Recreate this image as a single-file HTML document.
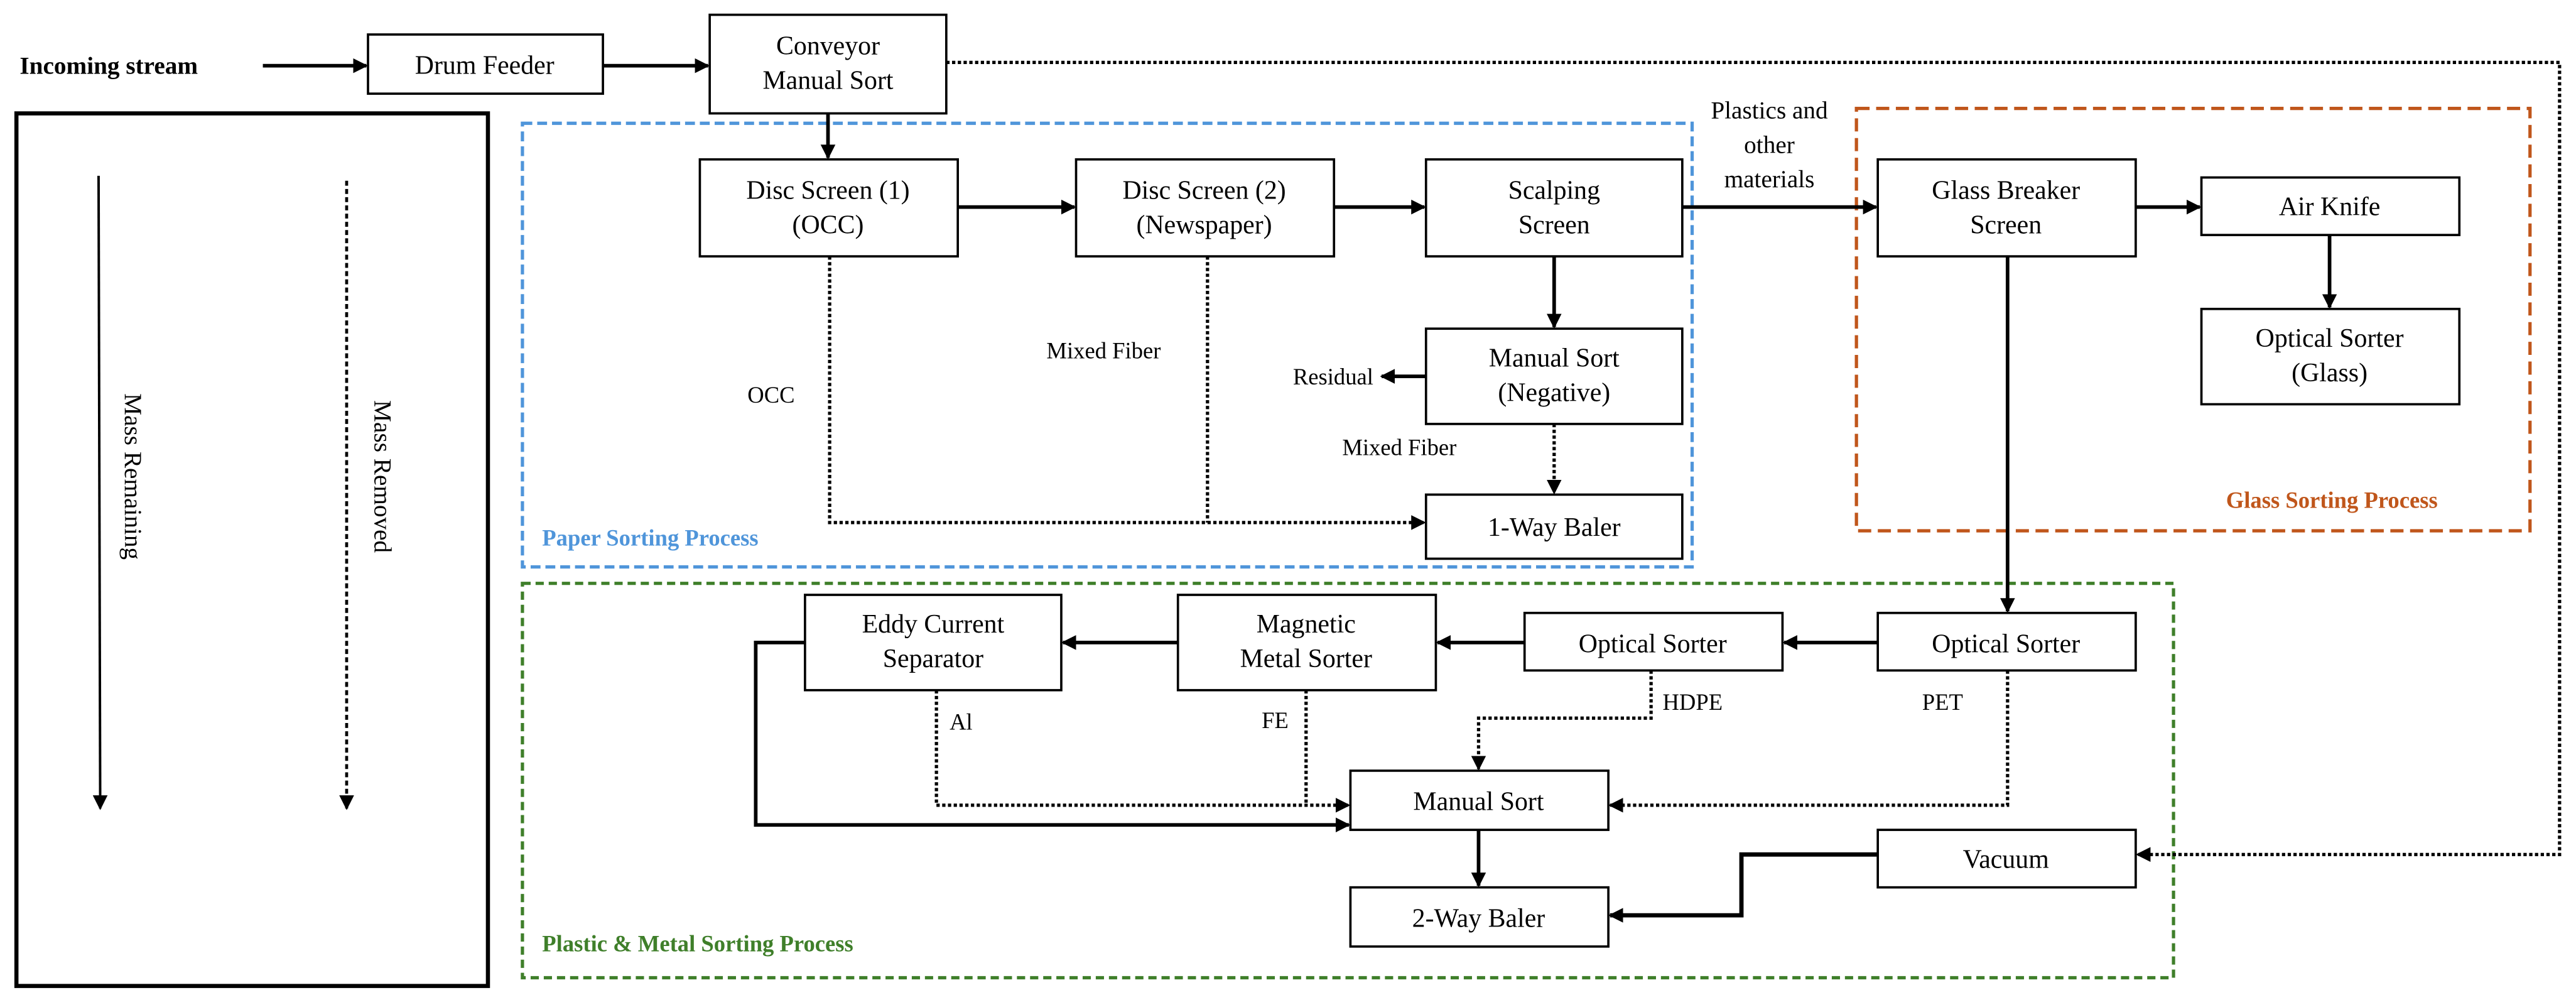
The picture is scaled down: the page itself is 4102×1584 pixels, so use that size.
<!DOCTYPE html>
<html><head><meta charset="utf-8"><style>
html,body{margin:0;padding:0;background:#fff;}
svg{display:block;}
text{font-family:"Liberation Serif",serif;fill:#000;}
</style></head><body>
<svg width="4102" height="1584" viewBox="0 0 1568 605.5" preserveAspectRatio="none" xmlns="http://www.w3.org/2000/svg">
<defs>
<marker id="a" markerWidth="9" markerHeight="9" refX="8" refY="4.5" orient="auto" markerUnits="userSpaceOnUse"><path d="M0,0 L9,4.5 L0,9 z" fill="#000"/></marker>
</defs>
<rect width="1568" height="605.5" fill="#fff"/>

<!-- group boxes -->
<rect x="318" y="75" width="712" height="270" fill="none" stroke="#4f95da" stroke-width="2" stroke-dasharray="6,3"/>
<text x="330" y="332" font-size="14" font-weight="bold" style="fill:#4f95da">Paper Sorting Process</text>
<rect x="1130" y="66" width="410" height="257" fill="none" stroke="#c0561b" stroke-width="2" stroke-dasharray="8,4"/>
<text x="1355" y="309" font-size="14" font-weight="bold" style="fill:#c0561b">Glass Sorting Process</text>
<rect x="318" y="355" width="1005" height="240" fill="none" stroke="#3f7f2a" stroke-width="2" stroke-dasharray="5,3"/>
<text x="330" y="579" font-size="14" font-weight="bold" style="fill:#3f7f2a">Plastic &amp; Metal Sorting Process</text>

<!-- legend -->
<rect x="10" y="69" width="287" height="531" fill="none" stroke="#000" stroke-width="2.5"/>
<line x1="60" y1="107" x2="61" y2="492" stroke="#000" stroke-width="1.5" marker-end="url(#a)"/>
<line x1="211" y1="110" x2="211" y2="492" stroke="#000" stroke-width="1.8" stroke-dasharray="3,2" marker-end="url(#a)"/>
<text transform="translate(76,290) rotate(90)" font-size="15" text-anchor="middle">Mass Remaining</text>
<text transform="translate(228,290) rotate(90)" font-size="15" text-anchor="middle">Mass Removed</text>

<g fill="#fff" stroke="#000" stroke-width="1.4">
<rect x="224" y="21" width="143" height="36"/>
<rect x="432" y="9" width="144" height="60"/>
<rect x="426" y="97" width="157" height="59"/>
<rect x="655" y="97" width="157" height="59"/>
<rect x="868" y="97" width="156" height="59"/>
<rect x="868" y="200" width="156" height="58"/>
<rect x="868" y="301" width="156" height="39"/>
<rect x="1143" y="97" width="157" height="59"/>
<rect x="1340" y="108" width="157" height="35"/>
<rect x="1340" y="188" width="157" height="58"/>
<rect x="1143" y="373" width="157" height="35"/>
<rect x="928" y="373" width="157" height="35"/>
<rect x="717" y="362" width="157" height="58"/>
<rect x="490" y="362" width="156" height="58"/>
<rect x="822" y="469" width="157" height="36"/>
<rect x="822" y="540" width="157" height="36"/>
<rect x="1143" y="505" width="157" height="35"/>
</g>

<g font-size="16" text-anchor="middle">
<text x="12" y="45" font-weight="bold" font-size="15" text-anchor="start">Incoming stream</text>
<text x="295" y="45">Drum Feeder</text>
<text x="504" y="33">Conveyor</text><text x="504" y="54">Manual Sort</text>
<text x="504" y="121">Disc Screen (1)</text><text x="504" y="142">(OCC)</text>
<text x="733" y="121">Disc Screen (2)</text><text x="733" y="142">(Newspaper)</text>
<text x="946" y="121">Scalping</text><text x="946" y="142">Screen</text>
<text x="946" y="223">Manual Sort</text><text x="946" y="244">(Negative)</text>
<text x="946" y="326">1-Way Baler</text>
<text x="1221" y="121">Glass Breaker</text><text x="1221" y="142">Screen</text>
<text x="1418" y="131">Air Knife</text>
<text x="1418" y="211">Optical Sorter</text><text x="1418" y="232">(Glass)</text>
<text x="1221" y="397">Optical Sorter</text>
<text x="1006" y="397">Optical Sorter</text>
<text x="795" y="385">Magnetic</text><text x="795" y="406">Metal Sorter</text>
<text x="568" y="385">Eddy Current</text><text x="568" y="406">Separator</text>
<text x="900" y="493">Manual Sort</text>
<text x="900" y="564">2-Way Baler</text>
<text x="1221" y="528">Vacuum</text>
</g>
<g font-size="14">
<text x="1077" y="72" text-anchor="middle" font-size="15">Plastics and</text>
<text x="1077" y="93" text-anchor="middle" font-size="15">other</text>
<text x="1077" y="114" text-anchor="middle" font-size="15">materials</text>
<text x="455" y="245">OCC</text>
<text x="637" y="218">Mixed Fiber</text>
<text x="787" y="234">Residual</text>
<text x="817" y="277">Mixed Fiber</text>
<text x="578" y="444">Al</text>
<text x="768" y="443">FE</text>
<text x="1012" y="432">HDPE</text>
<text x="1170" y="432">PET</text>
</g>

<!-- solid arrows -->
<g stroke="#000" stroke-width="2.2" fill="none" marker-end="url(#a)">
<line x1="160" y1="40" x2="223" y2="40"/>
<line x1="367" y1="40" x2="431" y2="40"/>
<line x1="504" y1="69" x2="504" y2="96"/>
<line x1="583" y1="126" x2="654" y2="126"/>
<line x1="812" y1="126" x2="867" y2="126"/>
<line x1="946" y1="156" x2="946" y2="199"/>
<line x1="868" y1="229" x2="841" y2="229"/>
<line x1="1024" y1="126" x2="1142" y2="126"/>
<line x1="1300" y1="126" x2="1339" y2="126"/>
<line x1="1418" y1="143" x2="1418" y2="187"/>
<line x1="1222" y1="156" x2="1222" y2="372"/>
<line x1="1143" y1="391" x2="1086" y2="391"/>
<line x1="928" y1="391" x2="875" y2="391"/>
<line x1="717" y1="391" x2="647" y2="391"/>
<polyline points="490,391 460,391 460,502 821,502"/>
<line x1="900" y1="505" x2="900" y2="539"/>
<polyline points="1143,520 1060,520 1060,557 980,557" stroke-width="2.6"/>
</g>
<!-- dotted arrows -->
<g stroke="#000" stroke-width="2" fill="none" stroke-dasharray="2,1.5">
<polyline points="505,156 505,318 867,318" marker-end="url(#a)"/>
<line x1="735" y1="156" x2="735" y2="318"/>
<line x1="946" y1="258" x2="946" y2="300" marker-end="url(#a)"/>
<polyline points="570,420 570,490 821,490" marker-end="url(#a)"/>
<line x1="795" y1="420" x2="795" y2="490"/>
<polyline points="1005,408 1005,437 900,437 900,468" marker-end="url(#a)"/>
<polyline points="1222,408 1222,490 980,490" marker-end="url(#a)"/>
<polyline points="576,38 1558,38 1558,520 1301,520" marker-end="url(#a)"/>
</g>
</svg>
</body></html>
